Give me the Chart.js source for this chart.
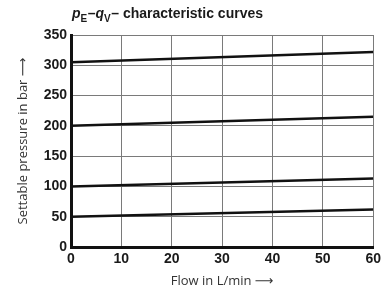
<!DOCTYPE html>
<html>
<head>
<meta charset="utf-8">
<script src="https://cdn.jsdelivr.net/npm/chart.js@4"></script>
<style>
  html, body { margin: 0; padding: 0; background: #fff; }
  #wrap { width: 385px; height: 291px; position: relative; }
</style>
</head>
<body>
<div id="wrap"><canvas id="myChart"></canvas></div>
<script>
"use strict";

// data
const flow = [0, 60]
const p315 = [305, 322]
const p210 = [200, 215]
const p105 = [100, 113]
const p55 = [50, 62]
const xTicks = [0, 10, 20, 30, 40, 50, 60]
const yTicks = [0, 50, 100, 150, 200, 250, 300, 350]

const toPts = (ys) => flow.map((x, i) => ({x: x, y: ys[i]}))

const lineStyle = {
  borderColor: '#111',
  borderWidth: 2.5,
  pointRadius: 0,
  fill: false,
  tension: 0
}

// title with italic letters and subscripts, drawn on the canvas
const titlePlugin = {
  id: 'subTitle',
  afterDraw(chart) {
    const ctx = chart.ctx
    const parts = [
      {t: 'p', f: 'italic bold 14px "Liberation Sans"', dy: 0},
      {t: 'E', f: 'bold 10px "Liberation Sans"', dy: 4},
      {t: '\u2013', f: 'bold 14px "Liberation Sans"', dy: 0},
      {t: 'q', f: 'italic bold 14px "Liberation Sans"', dy: 0},
      {t: 'V', f: 'bold 10px "Liberation Sans"', dy: 4},
      {t: '\u2013 characteristic curves', f: 'bold 14px "Liberation Sans"', dy: 0}
    ]
    let x = chart.chartArea.left + 1
    const y = 18
    ctx.save()
    ctx.fillStyle = '#1a1a1a'
    ctx.textBaseline = 'alphabetic'
    ctx.textAlign = 'left'
    for (const p of parts) {
      ctx.font = p.f
      ctx.fillText(p.t, x, y + p.dy)
      x += ctx.measureText(p.t).width + (p.dy ? 0.5 : 0)
    }
    ctx.restore()
  }
}

const axisFont = { family: '"Open Sans", "DejaVu Sans"', size: 13 }

const config = {
  type: 'line',
  data: {
    datasets: [
      Object.assign({data: toPts(p315)}, lineStyle),
      Object.assign({data: toPts(p210)}, lineStyle),
      Object.assign({data: toPts(p105)}, lineStyle),
      Object.assign({data: toPts(p55)}, lineStyle)
    ]
  },
  options: {
    responsive: true,
    maintainAspectRatio: false,
    animation: false,
    layout: { padding: {top: 35, right: 7, left: 0, bottom: 0} },
    plugins: {
      legend: { display: false },
      tooltip: { enabled: false }
    },
    scales: {
      x: {
        type: 'linear',
        min: 0, max: 60,
        afterBuildTicks: (s) => { s.ticks = xTicks.map(v => ({value: v})) },
        afterFit: (s) => { s.height = 44 },
        grid: { color: '#7a7a7a', lineWidth: 1, drawTicks: false },
        border: { color: '#111', width: 3 },
        ticks: {
          color: '#1a1a1a', padding: 4,
          font: { family: '"Liberation Sans"', size: 14, weight: 'bold' }
        },
        title: {
          display: true, text: 'Flow in L/min \u27F6', color: '#333',
          font: axisFont,
          padding: {top: 0, bottom: 2}
        }
      },
      y: {
        min: 0, max: 350,
        afterBuildTicks: (s) => { s.ticks = yTicks.map(v => ({value: v})) },
        afterFit: (s) => { s.width = 71 },
        grid: { color: '#7a7a7a', lineWidth: 1, drawTicks: false },
        border: { color: '#111', width: 3 },
        ticks: {
          color: '#1a1a1a', padding: 4,
          font: { family: '"Liberation Sans"', size: 14, weight: 'bold' }
        },
        title: {
          display: true, text: 'Settable pressure in bar \u27F6', color: '#333',
          font: axisFont,
          padding: {top: 15, bottom: 0}
        }
      }
    }
  },
  plugins: [titlePlugin]
}

const my_chart = new Chart(document.getElementById('myChart'), config)
</script>
</body>
</html>
